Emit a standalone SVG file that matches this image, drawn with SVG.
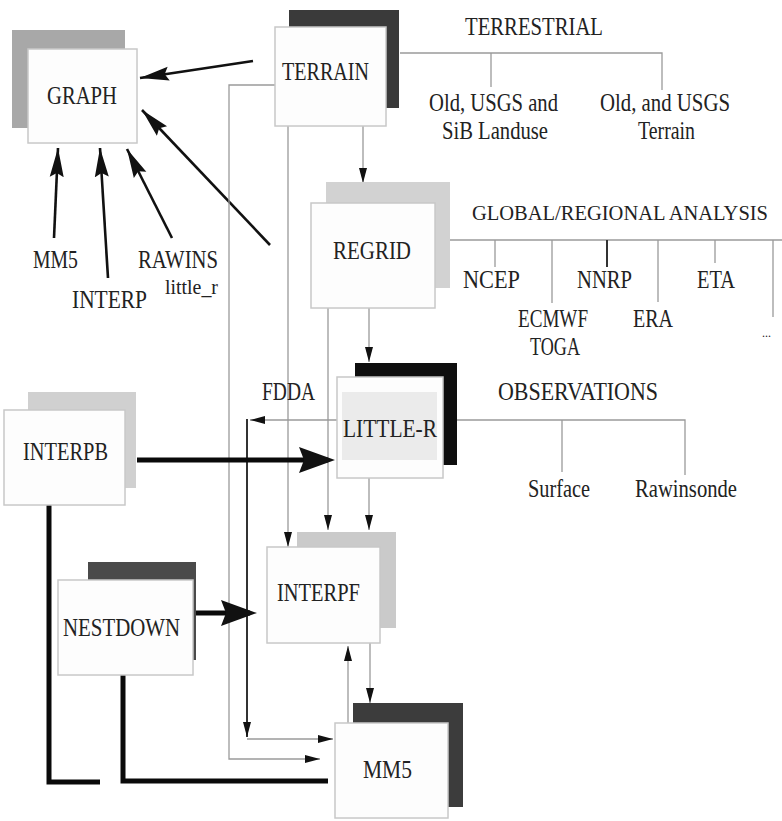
<svg xmlns="http://www.w3.org/2000/svg" width="782" height="821" viewBox="0 0 782 821">
<defs>
<style>
text{font-family:"Liberation Serif","Times New Roman",serif;font-size:25px;fill:#222;}
.box{fill:#fdfdfd;stroke:#c8c8c8;stroke-width:1.5;}
.thin{stroke:#9a9a9a;stroke-width:1.3;fill:none;}
.dark{stroke:#333;stroke-width:2;fill:none;}
.bold{stroke:#111;stroke-width:2.6;fill:none;}
.heavy{stroke:#0a0a0a;stroke-width:5;fill:none;}
</style>
<marker id="ah" markerUnits="userSpaceOnUse" markerWidth="16" markerHeight="10" refX="15" refY="5" orient="auto"><path d="M0,1 L15,5 L0,9 z" fill="#111"/></marker>
<marker id="am" markerUnits="userSpaceOnUse" markerWidth="30" markerHeight="16" refX="29" refY="8" orient="auto"><path d="M0,1 L29,8 L0,15 L4,8 z" fill="#111"/></marker>
<marker id="ab" markerUnits="userSpaceOnUse" markerWidth="36" markerHeight="28" refX="29" refY="14" orient="auto"><path d="M0,1 L36,14 L0,27 L5,14 z" fill="#111"/></marker>
</defs>
<rect width="782" height="821" fill="#fff"/>

<g id="connectors">
  <line class="bold" x1="253" y1="61" x2="140" y2="78" marker-end="url(#am)"/>
  <line class="bold" x1="270" y1="245" x2="142" y2="110" marker-end="url(#am)"/>
  <line class="bold" x1="54" y1="238" x2="58" y2="148" marker-end="url(#am)"/>
  <line class="bold" x1="108" y1="278" x2="100" y2="148" marker-end="url(#am)"/>
  <line class="bold" x1="172" y1="238" x2="127" y2="149" marker-end="url(#am)"/>
  <line class="thin" x1="363" y1="126" x2="363" y2="183" marker-end="url(#ah)"/>
  <line class="thin" x1="288" y1="126" x2="288" y2="547" marker-end="url(#ah)"/>
  <path class="thin" d="M275,85 H229 V759 H320" marker-end="url(#ah)"/>
  <line class="thin" x1="369" y1="308" x2="369" y2="362" marker-end="url(#ah)"/>
  <line class="thin" x1="328" y1="308" x2="328" y2="530" marker-end="url(#ah)"/>
  <line class="thin" x1="369" y1="478" x2="369" y2="530" marker-end="url(#ah)"/>
  <line class="thin" x1="337" y1="420" x2="250" y2="420" marker-end="url(#ah)"/>
  <line class="dark" x1="247" y1="419" x2="247" y2="737" marker-end="url(#ah)"/>
  <line class="thin" x1="247" y1="739" x2="333" y2="739" marker-end="url(#ah)"/>
  <line class="thin" x1="370" y1="643" x2="370" y2="703" marker-end="url(#ah)"/>
  <line class="thin" x1="348" y1="723" x2="348" y2="646" marker-end="url(#ah)"/>
  <path class="thin" d="M400,53 H662 V90 M491,53 V87"/>
  <path class="thin" d="M450,240 H782 M495,240 V267 M552,240 V303 M658,240 V302 M715,240 V263 M773,240 V317"/>
  <line class="dark" x1="607" y1="240" x2="607" y2="267"/>
  <path class="thin" d="M457,420 H685 V475 M562,420 V472"/>
  <path class="heavy" d="M49,505 V782 H100"/>
  <path class="heavy" d="M123,675 V781 H328"/>
  <line class="heavy" x1="137" y1="460" x2="328" y2="460" marker-end="url(#ab)"/>
  <line class="heavy" x1="194" y1="613" x2="250" y2="613" marker-end="url(#ab)"/>
</g>

<g id="graph">
  <rect x="12" y="30" width="113" height="98" fill="#a8a8a8"/>
  <rect class="box" x="28" y="49" width="109" height="94"/>
  <text x="47" y="104" textLength="70" lengthAdjust="spacingAndGlyphs">GRAPH</text>
</g>
<g id="graph-inputs">
  <text x="33" y="268" textLength="45" lengthAdjust="spacingAndGlyphs">MM5</text>
  <text x="72" y="308" textLength="75" lengthAdjust="spacingAndGlyphs">INTERP</text>
  <text x="138" y="268" textLength="80" lengthAdjust="spacingAndGlyphs">RAWINS</text>
  <text x="165" y="294" style="font-size:21px" textLength="53" lengthAdjust="spacingAndGlyphs">little_r</text>
</g>
<g id="terrain">
  <rect x="289" y="10" width="110" height="98" fill="#3a3a3a"/>
  <rect class="box" x="275" y="27" width="111" height="99"/>
  <text x="282" y="80" textLength="87" lengthAdjust="spacingAndGlyphs">TERRAIN</text>
</g>
<g id="terrestrial">
  <text x="465" y="35" textLength="138" lengthAdjust="spacingAndGlyphs">TERRESTRIAL</text>
  <text x="429" y="111" textLength="129" lengthAdjust="spacingAndGlyphs">Old, USGS and</text>
  <text x="442" y="139" textLength="106" lengthAdjust="spacingAndGlyphs">SiB Landuse</text>
  <text x="600" y="111" textLength="130" lengthAdjust="spacingAndGlyphs">Old, and USGS</text>
  <text x="638" y="139" textLength="57" lengthAdjust="spacingAndGlyphs">Terrain</text>
</g>
<g id="regrid">
  <rect x="326" y="182" width="124" height="106" fill="#d2d2d2"/>
  <rect class="box" x="311" y="203" width="124" height="105"/>
  <text x="333" y="259" textLength="78" lengthAdjust="spacingAndGlyphs">REGRID</text>
</g>
<g id="global-analysis">
  <text x="472" y="220" style="font-size:20px" textLength="296" lengthAdjust="spacingAndGlyphs">GLOBAL/REGIONAL ANALYSIS</text>
  <text x="463" y="288" textLength="57" lengthAdjust="spacingAndGlyphs">NCEP</text>
  <text x="577" y="288" textLength="55" lengthAdjust="spacingAndGlyphs">NNRP</text>
  <text x="697" y="288" textLength="38" lengthAdjust="spacingAndGlyphs">ETA</text>
  <text x="518" y="327" textLength="70" lengthAdjust="spacingAndGlyphs">ECMWF</text>
  <text x="530" y="355" textLength="50" lengthAdjust="spacingAndGlyphs">TOGA</text>
  <text x="633" y="327" textLength="40" lengthAdjust="spacingAndGlyphs">ERA</text>
  <text x="762" y="337" style="font-size:12px">...</text>
</g>
<g id="little-r">
  <rect x="355" y="363" width="102" height="102" fill="#0e0e0e"/>
  <rect class="box" x="337" y="377" width="106" height="101"/>
  <rect x="342" y="392" width="95" height="68" fill="#ebebeb"/>
  <text x="343" y="437" textLength="94" lengthAdjust="spacingAndGlyphs">LITTLE-R</text>
</g>
<g id="observations">
  <text x="498" y="400" textLength="160" lengthAdjust="spacingAndGlyphs">OBSERVATIONS</text>
  <text x="528" y="497" textLength="62" lengthAdjust="spacingAndGlyphs">Surface</text>
  <text x="635" y="497" textLength="102" lengthAdjust="spacingAndGlyphs">Rawinsonde</text>
</g>
<g id="fdda">
  <text x="262" y="400" textLength="53" lengthAdjust="spacingAndGlyphs">FDDA</text>
</g>
<g id="interpb">
  <rect x="28" y="392" width="108" height="96" fill="#d0d0d0"/>
  <rect class="box" x="4" y="410" width="121" height="95"/>
  <text x="23" y="460" textLength="85" lengthAdjust="spacingAndGlyphs">INTERPB</text>
</g>
<g id="nestdown">
  <rect x="88" y="562" width="108" height="98" fill="#4a4a4a"/>
  <rect class="box" x="58" y="580" width="135" height="95"/>
  <text x="63" y="636" textLength="117" lengthAdjust="spacingAndGlyphs">NESTDOWN</text>
</g>
<g id="interpf">
  <rect x="297" y="532" width="99" height="96" fill="#cacaca"/>
  <rect class="box" x="267" y="547" width="113" height="96"/>
  <text x="277" y="601" textLength="83" lengthAdjust="spacingAndGlyphs">INTERPF</text>
</g>
<g id="mm5">
  <rect x="353" y="703" width="110" height="104" fill="#3c3c3c"/>
  <rect class="box" x="335" y="723" width="113" height="95"/>
  <text x="363" y="778" textLength="49" lengthAdjust="spacingAndGlyphs">MM5</text>
</g>
</svg>
